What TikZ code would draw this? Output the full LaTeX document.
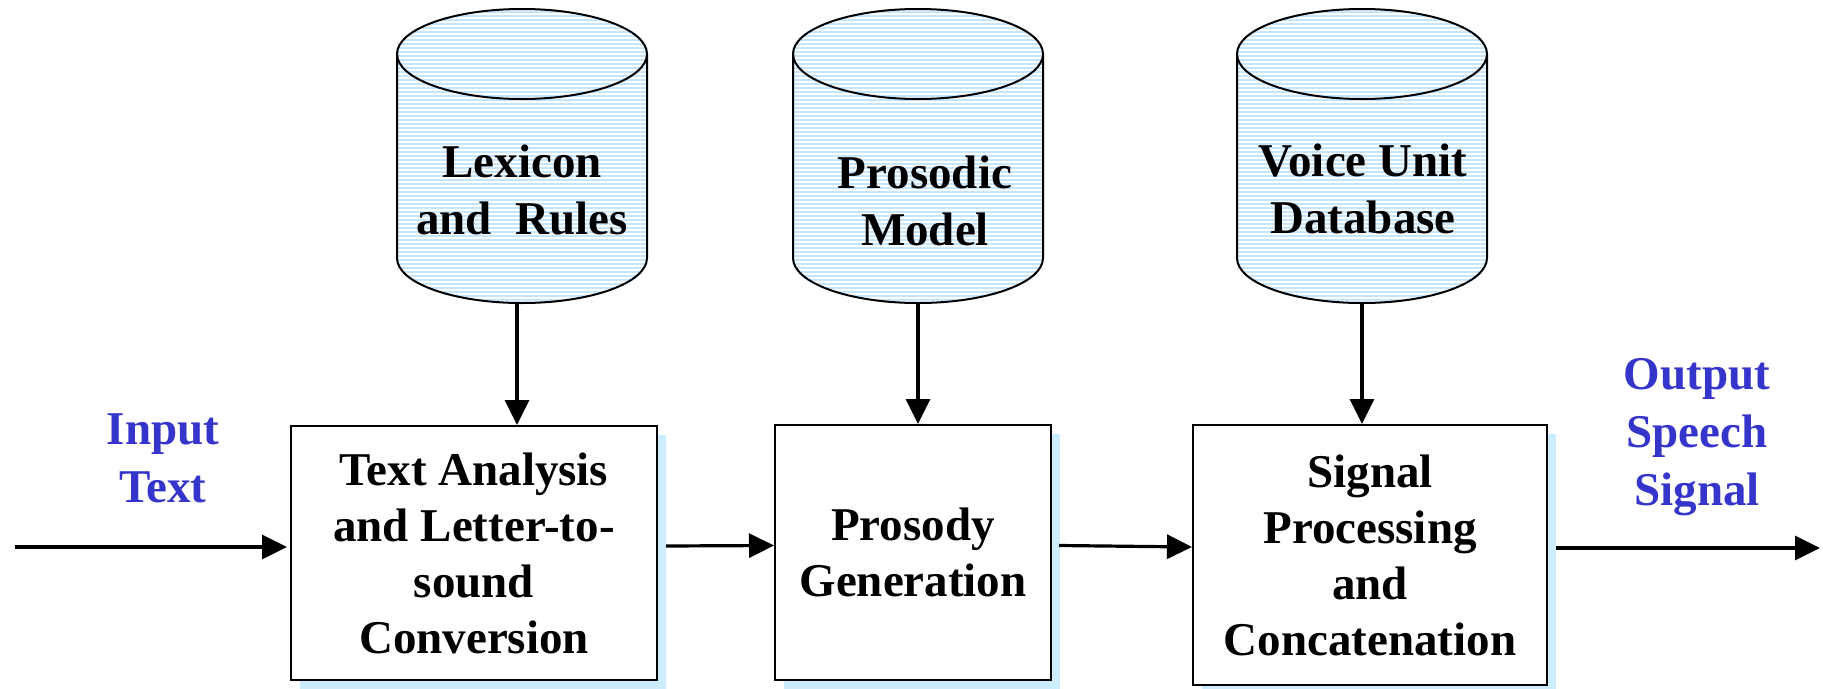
\documentclass[tikz,border=0pt]{standalone}
\usepackage{fontspec}
\setmainfont{Liberation Serif}
\usetikzlibrary{arrows.meta,shadows}

\definecolor{stripeblue}{HTML}{C6E6FF}
\definecolor{shadowblue}{HTML}{CCECFF}
\definecolor{labelblue}{HTML}{3535CC}

\tikzset{
  x=1pt, y=1pt,
  txt/.style={font=\bfseries\fontsize{47}{57}\selectfont, align=center, inner sep=0pt},
  block/.style={draw, line width=2pt, fill=white, inner sep=0pt,
    font=\bfseries\fontsize{47}{56}\selectfont, align=center,
    drop shadow={shadow xshift=9pt, shadow yshift=-9pt, fill=shadowblue, opacity=1}},
  arr/.style={line width=3.2pt, -{Triangle[length=25pt,width=24pt]}},
  rim/.style={line width=2pt},
  io/.style={txt, text=labelblue, font=\bfseries\fontsize{47}{58}\selectfont},
  dbarea/.style={minimum width=250pt, minimum height=295pt, inner sep=0pt},
}

% striped data-store cylinder centred at x=#1
\newcommand\storecylinder[1]{%
  \begin{scope}
    \clip (#1-125,-54) -- (#1-125,-258)
      arc[start angle=180, end angle=360, x radius=125, y radius=45]
      -- (#1+125,-54)
      arc[start angle=0, end angle=180, x radius=125, y radius=45] -- cycle;
    \fill[stripeblue] (#1-130,0) rectangle (#1+130,-310);
    \foreach \k in {0,...,76}
      \draw[white, line width=1.2pt] (#1-130,-6-4*\k) -- (#1+130,-6-4*\k);
  \end{scope}
  \draw[rim] (#1-125,-54) -- (#1-125,-258)
      arc[start angle=180, end angle=360, x radius=125, y radius=45]
      -- (#1+125,-54)
      arc[start angle=0, end angle=180, x radius=125, y radius=45] -- cycle;
  \draw[rim] (#1-125,-54)
      arc[start angle=180, end angle=360, x radius=125, y radius=45];
}

\begin{document}
\begin{tikzpicture}
\useasboundingbox (0,0) rectangle (1823,-688);

% data stores
\storecylinder{522}
\storecylinder{918}
\storecylinder{1362}
\node[dbarea] (lexdb) at (522,-155.5) {};
\node[dbarea] (prosdb) at (918,-155.5) {};
\node[dbarea] (voicedb) at (1362,-155.5) {};
\node[txt] (lextext) at (522,-190) {Lexicon\\and~ Rules};
\node[txt] (prostext) at (925,-201) {Prosodic\\Model};
\node[txt] (voicetext) at (1363,-189) {Voice Unit\\Database};

% processing stages
\node[block, minimum width=366pt, minimum height=254pt] (tab) at (474,-553)
  {Text Analysis\\and Letter-to-\\sound\\Conversion};
\node[block, minimum width=276pt, minimum height=255pt] (pros) at (913,-552.5)
  {Prosody\\Generation};
\node[block, minimum width=354pt, minimum height=260pt] (sig) at (1370,-555)
  {Signal\\Processing\\and\\Concatenation};

% input / output labels
\node[io] (inlab) at (163,-458) {Input\\Text};
\node[io] (outlab) at (1697,-437) {Output\\Speech\\Signal};

% connectors
\coordinate (src) at (15,-547);
\coordinate (snk) at (1820,-548);
\coordinate (lexout) at ([xshift=-5pt]lexdb.south);
\draw[arr, shorten >=3pt] (src) -- (src -| tab.west);
\draw[arr] ([shift={(8pt,7pt)}]tab.east) -- ([yshift=7pt]pros.west);
\draw[arr] ([shift={(7pt,7pt)}]pros.east) -- ([yshift=8pt]sig.west);
\draw[arr] ([shift={(8pt,7pt)}]sig.east) -- (snk);
\draw[arr] (lexout) -- (lexout |- tab.north);
\draw[arr] (prosdb.south) -- (prosdb.south |- pros.north);
\draw[arr] (voicedb.south) -- (voicedb.south |- sig.north);
\end{tikzpicture}
\end{document}
